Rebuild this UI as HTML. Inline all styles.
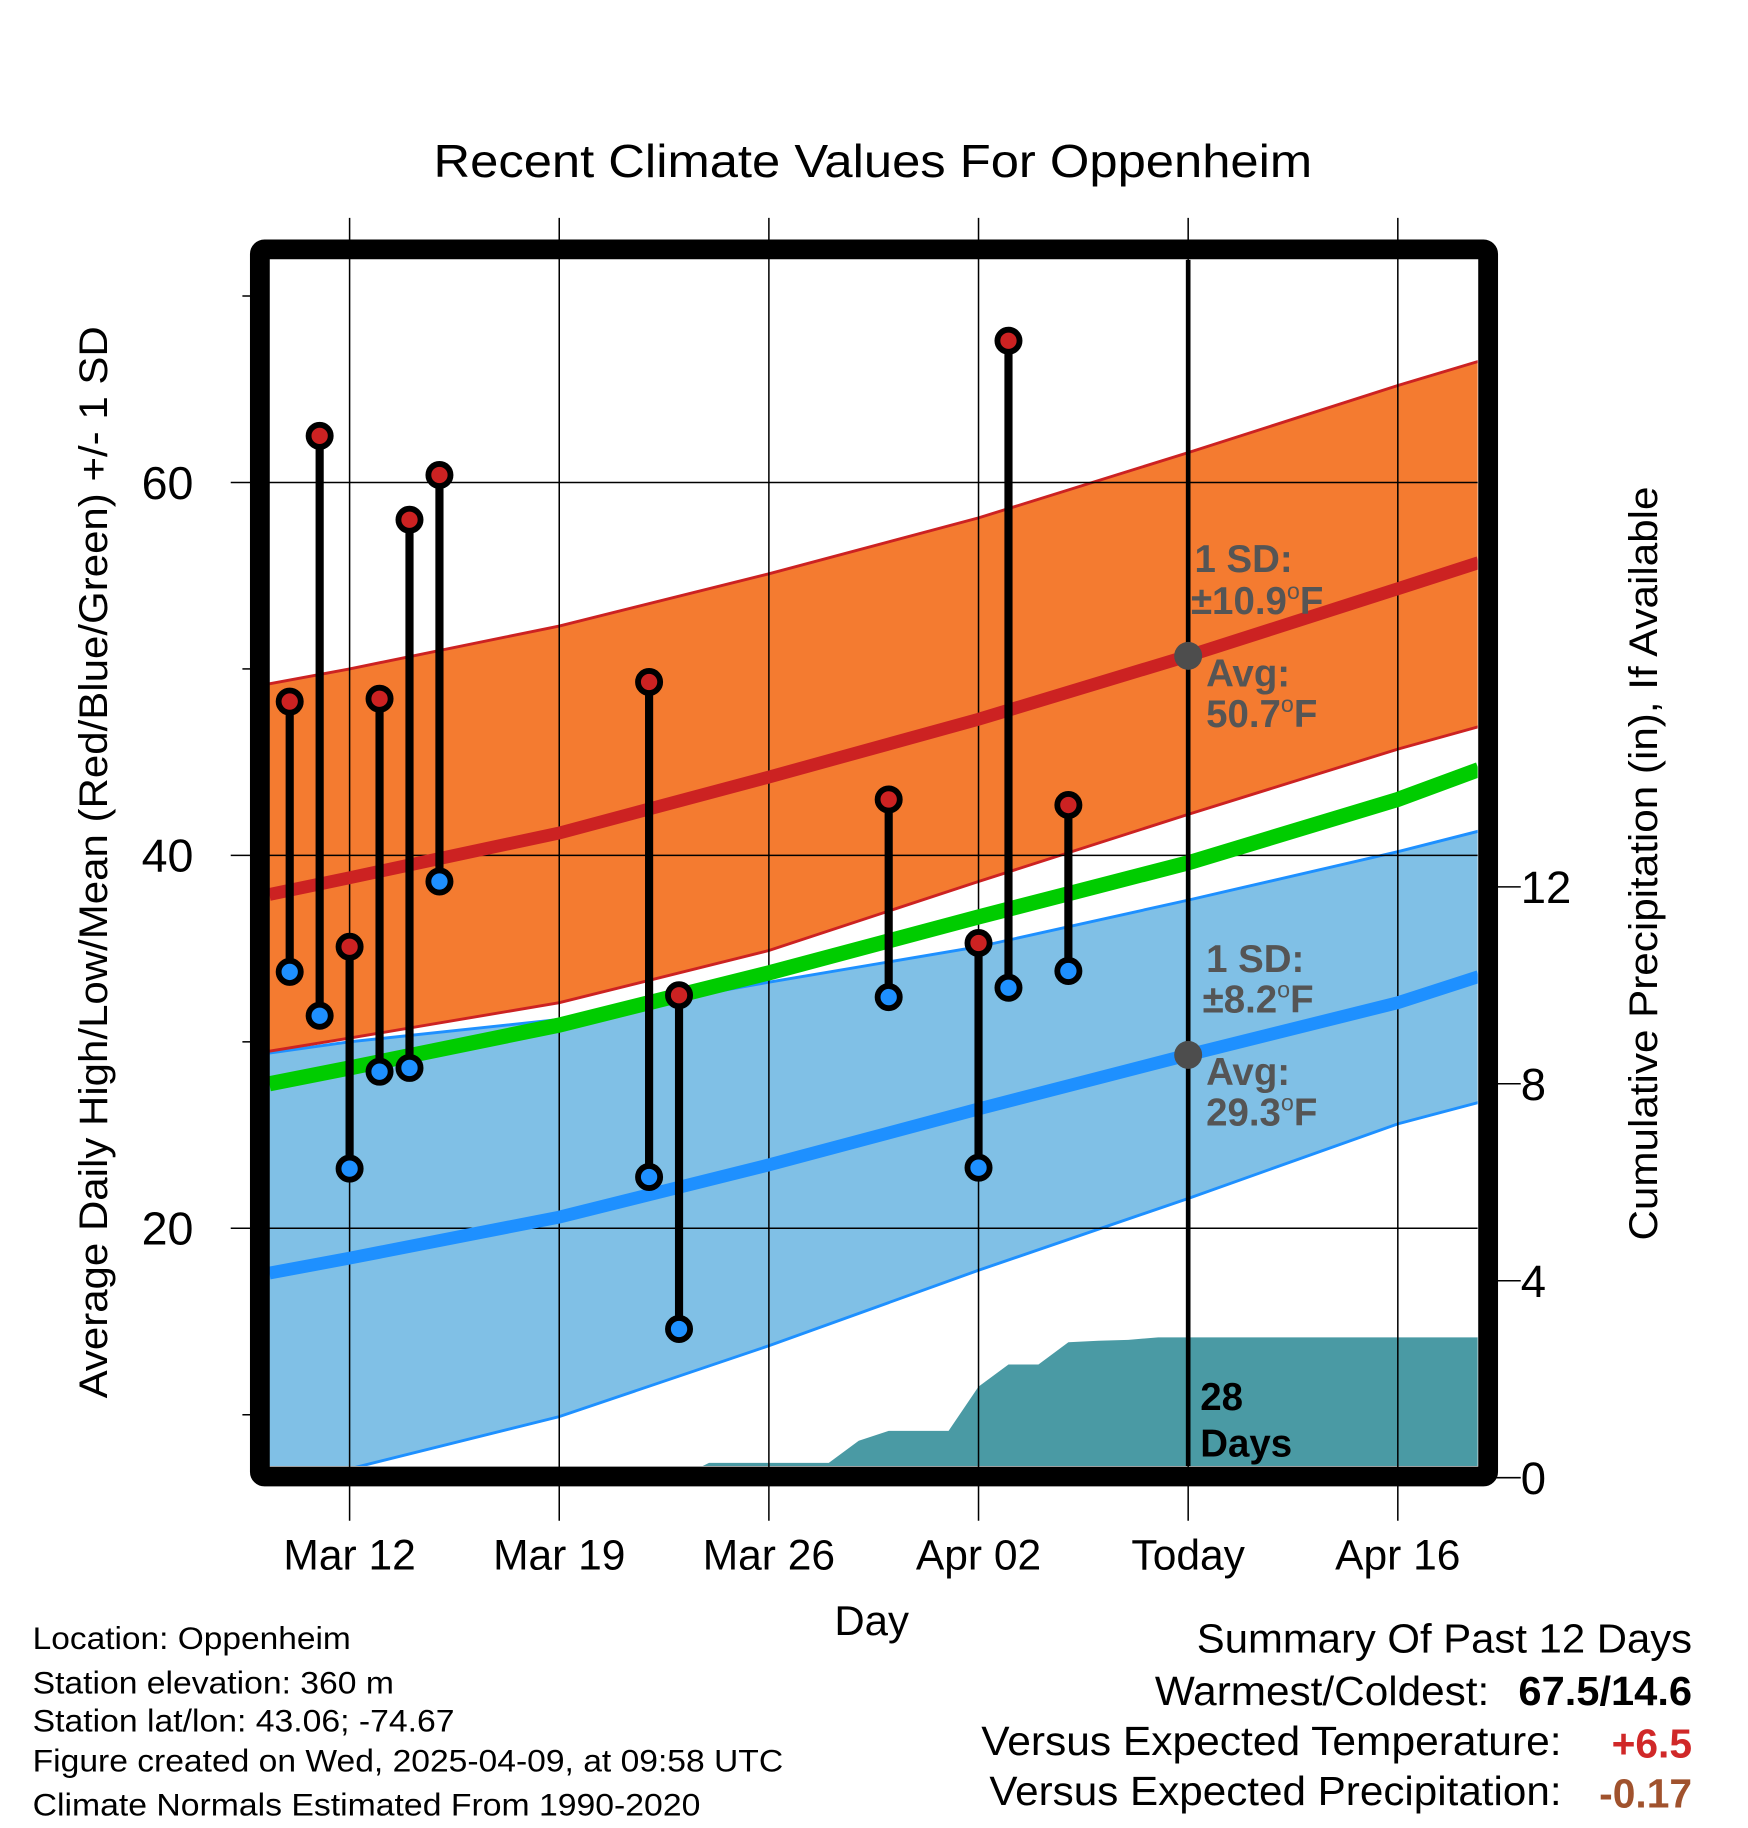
<!DOCTYPE html>
<html><head><meta charset="utf-8"><style>
html,body{margin:0;padding:0;background:#fff}
svg{display:block;font-family:"Liberation Sans",sans-serif}
</style></head><body>
<svg id="chart" width="1748" height="1828" viewBox="0 0 1500 1568.6" preserveAspectRatio="none" xmlns="http://www.w3.org/2000/svg">
<g id="layer-bands"></g>
<g id="layer-grid"></g>
<g id="layer-lines"></g>
<g id="layer-marks"></g>
<g id="layer-frame"></g>
<g id="layer-text"></g>
</svg>
<script>
// ---- data ----
const tickDays = [0, 7, 14, 21, 28, 35];
const tickLabels = ["Mar 12", "Mar 19", "Mar 26", "Apr 02", "Today", "Apr 16"];
const tempTicks = [20, 40, 60];
const tempMinorTicks = [10, 30, 50, 70];
const precipTicks = [0, 4, 8, 12];
const obsDays = [-2, -1, 0, 1, 2, 3, 10, 11, 18, 21, 22, 24];
const obsHigh = [48.25, 62.5, 35.1, 48.4, 58, 60.4, 49.3, 32.5, 43, 35.3, 67.6, 42.7];
const obsLow = [33.75, 31.4, 23.2, 28.4, 28.6, 38.6, 22.75, 14.6, 32.4, 23.25, 32.9, 33.8];
const normDays = [-2.68, 0, 7, 14, 21, 28, 35, 37.7];
const normHigh = [37.9, 38.8, 41.2, 44.2, 47.3, 50.7, 54.3, 55.7];
const highUpper = [49.2, 50.0, 52.3, 55.1, 58.1, 61.6, 65.2, 66.5];
const highLower = [29.5, 30.2, 32.1, 34.9, 38.6, 42.2, 45.7, 46.9];
const normMean = [27.75, 28.6, 30.9, 33.7, 36.7, 39.6, 43.0, 44.6];
const normLow = [17.6, 18.4, 20.6, 23.4, 26.4, 29.3, 32.1, 33.5];
const lowUpper = [29.4, 30.0, 31.2, 33.2, 35.1, 37.6, 40.2, 41.3];
const lowLower = [6.2, 7.1, 9.9, 13.7, 17.75, 21.6, 25.6, 26.75];
const precipDays = [-2.68, 11, 12, 16, 17, 18, 20, 21, 22, 23, 24, 25, 26, 27, 37.7];
const precipCum = [0, 0, 0.3, 0.3, 0.75, 0.95, 0.95, 1.85, 2.3, 2.3, 2.75, 2.78, 2.8, 2.85, 2.85];

// ---- axes ----
const X0 = 231, X1 = 1268, Y0 = 223, Y1 = 1258;
const xs = d => 300 + d * 25.7;
const ys = t => 1374 - t * 16;
const yp = p => 1268 - p * 42.25;
const NS = "http://www.w3.org/2000/svg";
function mk(tag, attrs, parent) {
  const e = document.createElementNS(NS, tag);
  for (const k in attrs) e.setAttribute(k, attrs[k]);
  parent.appendChild(e);
  return e;
}
const gB = document.getElementById('layer-bands'), gG = document.getElementById('layer-grid'),
  gL = document.getElementById('layer-lines'), gM = document.getElementById('layer-marks'),
  gF = document.getElementById('layer-frame'), gT = document.getElementById('layer-text');
const svg = document.getElementById('chart');
const clip = mk('clipPath', {id: 'plotclip'}, svg);
mk('rect', {x: X0, y: Y0, width: X1 - X0, height: Y1 - Y0}, clip);
gB.setAttribute('clip-path', 'url(#plotclip)');
gL.setAttribute('clip-path', 'url(#plotclip)');

function bandPath(up, lo) {
  let s = normDays.map((d, i) => (i ? 'L' : 'M') + xs(d) + ',' + ys(up[i])).join('');
  for (let i = normDays.length - 1; i >= 0; i--) s += 'L' + xs(normDays[i]) + ',' + ys(lo[i]);
  return s + 'Z';
}
function linePath(v) { return normDays.map((d, i) => (i ? 'L' : 'M') + xs(d) + ',' + ys(v[i])).join(''); }

let pp = 'M' + xs(precipDays[0]) + ',' + Y1;
precipDays.forEach((d, i) => { pp += 'L' + xs(d) + ',' + yp(precipCum[i]); });
pp += 'L' + xs(precipDays[precipDays.length - 1]) + ',' + Y1 + 'Z';

let e;
e = mk('path', {d: bandPath(lowUpper, lowLower), fill: '#80c0e6', stroke: 'none'}, gB);
 
e = mk('path', {d: linePath(lowUpper), fill: 'none', stroke: '#1e90ff', 'stroke-width': 2.5}, gB);
 
e = mk('path', {d: linePath(lowLower), fill: 'none', stroke: '#1e90ff', 'stroke-width': 2.5}, gB);
 
e = mk('path', {d: bandPath(highUpper, highLower), fill: '#f47b30', stroke: 'none'}, gB);
 
e = mk('path', {d: linePath(highUpper), fill: 'none', stroke: '#cc2222', 'stroke-width': 2.5}, gB);
 
e = mk('path', {d: linePath(highLower), fill: 'none', stroke: '#cc2222', 'stroke-width': 2.5}, gB);
 
e = mk('path', {d: pp, fill: '#4a9aa4'}, gB);
 

tickDays.forEach((d, i) => {
  const l = mk('line', {x1: xs(d), x2: xs(d), y1: 187, y2: 1305, stroke: '#000', 'stroke-width': 1.3}, gG);
   
  const t = mk('text', {x: xs(d), y: 1347, 'font-size': 36.5, 'text-anchor': 'middle'}, gT);
  t.textContent = tickLabels[i];
   
});
tempTicks.forEach(v => {
  const l = mk('line', {x1: 198, x2: X1, y1: ys(v), y2: ys(v), stroke: '#000', 'stroke-width': 1.3}, gG);
   
  const t = mk('text', {x: 166, y: ys(v) + 14, 'font-size': 40, 'text-anchor': 'end'}, gT);
  t.textContent = v;
   
});
tempMinorTicks.forEach(v => {
  const l = mk('line', {x1: 208, x2: 218, y1: ys(v), y2: ys(v), stroke: '#000', 'stroke-width': 1.3}, gG);
   
});
precipTicks.forEach(v => {
  const l = mk('line', {x1: 1280, x2: 1305, y1: yp(v), y2: yp(v), stroke: '#000', 'stroke-width': 1.3}, gG);
   
  const t = mk('text', {x: 1305, y: yp(v) + 14, 'font-size': 39}, gT);
  t.textContent = v;
   
});

e = mk('path', {d: linePath(normLow), fill: 'none', stroke: '#1e90ff', 'stroke-width': 11}, gL);
 
e = mk('path', {d: linePath(normMean), fill: 'none', stroke: '#00cc00', 'stroke-width': 13}, gL);
 
e = mk('path', {d: linePath(normHigh), fill: 'none', stroke: '#cc2222', 'stroke-width': 11}, gL);
 

e = mk('line', {x1: xs(28), x2: xs(28), y1: Y0, y2: Y1, stroke: '#000', 'stroke-width': 4}, gM);
 
[50.7, 29.3].forEach(v => {
  const c = mk('circle', {cx: xs(28), cy: ys(v), r: 12, fill: '#4d4d4d'}, gM);
   
});

obsDays.forEach((d, i) => {
  const s = mk('line', {x1: xs(d), x2: xs(d), y1: ys(obsHigh[i]), y2: ys(obsLow[i]), stroke: '#000', 'stroke-width': 7}, gM);
   
  [[obsHigh[i], '#cc2222', 'daily-high-point'], [obsLow[i], '#1e90ff', 'daily-low-point']].forEach(([v, col, nm]) => {
    const c = mk('circle', {cx: xs(d), cy: ys(v), r: 9.5, fill: col, stroke: '#000', 'stroke-width': 5}, gM);
     
  });
});

e = mk('rect', {x: 223, y: 214, width: 1054, height: 1053, fill: 'none', stroke: '#000', 'stroke-width': 17, rx: 4}, gF);
 
</script>
<script>
(function(){
const NS = "http://www.w3.org/2000/svg";
const g = document.getElementById('layer-text');
function txt(s, attrs, name) {
  const t = document.createElementNS(NS, 'text');
  for (const k in attrs) t.setAttribute(k, attrs[k]);
  t.innerHTML = s;
  
  
  g.appendChild(t);
  return t;
}
const ann = {'font-size': 33, 'font-weight': 'bold', fill: '#555'};
txt('1 SD:', Object.assign({x: 1025, y: 491}, ann), 'high-sd-label');
txt('±10.9<tspan dy="-13" font-size="20" font-weight="normal">o</tspan><tspan dy="13">F</tspan>', Object.assign({x: 1022, y: 527}, ann), 'high-sd-value');
txt('Avg:', Object.assign({x: 1035, y: 589}, ann), 'high-avg-label');
txt('50.7<tspan dy="-13" font-size="20" font-weight="normal">o</tspan><tspan dy="13">F</tspan>', Object.assign({x: 1035, y: 624}, ann), 'high-avg-value');
txt('1 SD:', Object.assign({x: 1035, y: 834}, ann), 'low-sd-label');
txt('±8.2<tspan dy="-13" font-size="20" font-weight="normal">o</tspan><tspan dy="13">F</tspan>', Object.assign({x: 1032, y: 869}, ann), 'low-sd-value');
txt('Avg:', Object.assign({x: 1035, y: 931}, ann), 'low-avg-label');
txt('29.3<tspan dy="-13" font-size="20" font-weight="normal">o</tspan><tspan dy="13">F</tspan>', Object.assign({x: 1035, y: 966}, ann), 'low-avg-value');
txt('28', {x: 1030, y: 1210, 'font-size': 33, 'font-weight': 'bold'}, 'days-count');
txt('Days', {x: 1030, y: 1250, 'font-size': 33, 'font-weight': 'bold'}, 'days-label');
txt('Recent Climate Values For Oppenheim', {x: 749, y: 152, 'font-size': 40, 'text-anchor': 'middle', textLength: 754, lengthAdjust: 'spacingAndGlyphs'}, 'chart-title');
txt('Day', {x: 748, y: 1403, 'font-size': 36, 'text-anchor': 'middle'}, 'x-axis-title');
txt('Average Daily High/Low/Mean (Red/Blue/Green) +/- 1 SD', {x: 0, y: 0, 'font-size': 34, 'text-anchor': 'middle', textLength: 920, lengthAdjust: 'spacingAndGlyphs', transform: 'translate(92,740) rotate(-90)'}, 'y-axis-title');
txt('Cumulative Precipitation (in), If Available', {x: 0, y: 0, 'font-size': 34, 'text-anchor': 'middle', textLength: 647, lengthAdjust: 'spacingAndGlyphs', transform: 'translate(1422,741) rotate(-90)'}, 'precip-axis-title');
const info = ['Location: Oppenheim', 'Station elevation: 360 m', 'Station lat/lon: 43.06; -74.67', 'Figure created on Wed, 2025-04-09, at 09:58 UTC', 'Climate Normals Estimated From 1990-2020'];
const iw = [273, 310, 362, 644, 573];
const iy = [1415, 1453, 1486, 1520, 1558];
info.forEach((s, i) => txt(s, {x: 28, y: iy[i], 'font-size': 27, textLength: iw[i], lengthAdjust: 'spacingAndGlyphs'}, 'station-info-line'));
txt('Summary Of Past 12 Days', {x: 1452, y: 1418, 'font-size': 35, 'text-anchor': 'end', textLength: 425, lengthAdjust: 'spacingAndGlyphs'}, 'summary-title');
txt('Warmest/Coldest:', {x: 1278, y: 1463, 'font-size': 35, 'text-anchor': 'end', textLength: 287, lengthAdjust: 'spacingAndGlyphs'}, 'warmest-coldest-label');
txt('67.5/14.6', {x: 1452, y: 1463, 'font-size': 35, 'font-weight': 'bold', 'text-anchor': 'end', textLength: 149, lengthAdjust: 'spacingAndGlyphs'}, 'warmest-coldest-value');
txt('Versus Expected Temperature:', {x: 1340, y: 1506, 'font-size': 35, 'text-anchor': 'end', textLength: 498, lengthAdjust: 'spacingAndGlyphs'}, 'temp-anomaly-label');
txt('+6.5', {x: 1452, y: 1508, 'font-size': 35, 'font-weight': 'bold', fill: '#d02828', 'text-anchor': 'end'}, 'temp-anomaly-value');
txt('Versus Expected Precipitation:', {x: 1340, y: 1549, 'font-size': 35, 'text-anchor': 'end', textLength: 491, lengthAdjust: 'spacingAndGlyphs'}, 'precip-anomaly-label');
txt('-0.17', {x: 1452, y: 1551, 'font-size': 35, 'font-weight': 'bold', fill: '#a0522d', 'text-anchor': 'end'}, 'precip-anomaly-value');
})();
</script>
</body></html>
